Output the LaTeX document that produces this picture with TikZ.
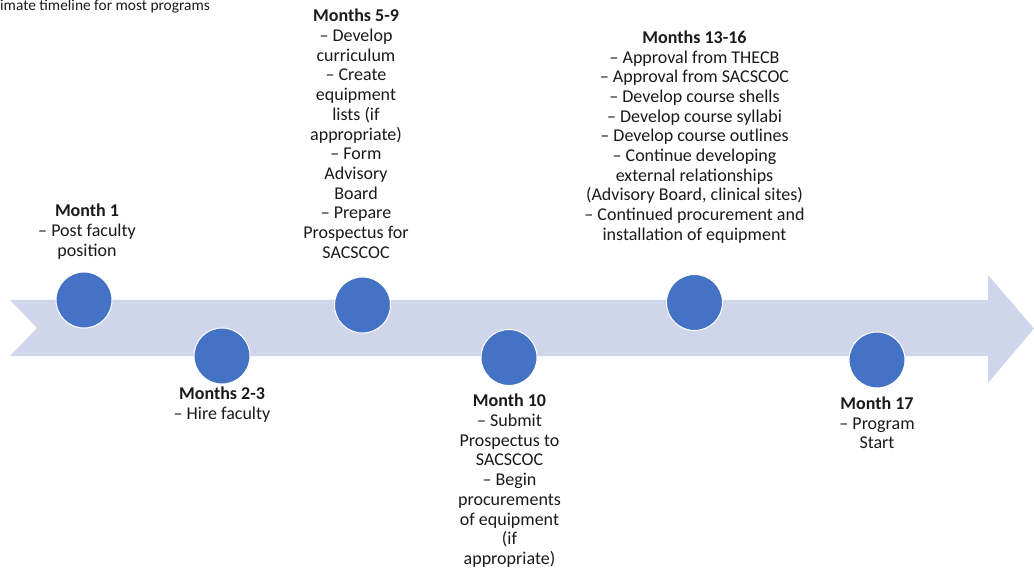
\documentclass[tikz,border=0pt]{standalone}
\usepackage{fontspec}
\setmainfont{Carlito}
\definecolor{bandblue}{HTML}{CFD5EA}
\definecolor{dotblue}{HTML}{4472C4}
\definecolor{txt}{HTML}{1A1A1A}
\begin{document}
\begin{tikzpicture}[x=1pt,y=-1pt,
  dot/.style={circle, fill=dotblue, draw=white, line width=1pt, minimum size=56pt, inner sep=0pt},
  lbl/.style={align=center, inner sep=0pt, anchor=north, text=txt, font=\fontsize{18}{19.7}\selectfont},
  ttl/.style={inner sep=0pt, anchor=north west, text=txt, font=\fontsize{15.4}{17}\selectfont}]
\useasboundingbox (0,0) rectangle (1034,572);
\clip (0,0) rectangle (1034,572);
% timeline band arrow
\fill[bandblue] (10,300) -- (988,300) -- (988,275) -- (1034,328.5) -- (988,383) -- (988,356) -- (10,356) -- (37,328) -- cycle;
% title (cut off at the left edge)
\node[ttl] (title) at (0,0) {imate timeline for most programs};
% milestones
\node[dot] (c1) at (84,300) {};
\node[dot] (c2) at (222,356) {};
\node[dot] (c3) at (362.5,305) {};
\node[dot] (c4) at (509,357.5) {};
\node[dot] (c5) at (694.5,302.5) {};
\node[dot] (c6) at (877,360) {};
% labels
\node[lbl] (t1) at (87,204) {\textbf{Month 1}\\– Post faculty\\position};
\node[lbl] (t2) at (222,387) {\textbf{Months 2-3}\\– Hire faculty};
\node[lbl] (t3) at (356,9) {\textbf{Months 5-9}\\– Develop\\curriculum\\– Create\\equipment\\lists (if\\appropriate)\\– Form\\Advisory\\Board\\– Prepare\\Prospectus for\\SACSCOC};
\node[lbl] (t4) at (509.5,394) {\textbf{Month 10}\\– Submit\\Prospectus to\\SACSCOC\\– Begin\\procurements\\of equipment\\(if\\appropriate)};
\node[lbl] (t5) at (694.5,30.5) {\textbf{Months 13-16}\\– Approval from THECB\\– Approval from SACSCOC\\– Develop course shells\\– Develop course syllabi\\– Develop course outlines\\– Continue developing\\external relationships\\(Advisory Board, clinical sites)\\– Continued procurement and\\installation of equipment};
\node[lbl] (t6) at (877,396.5) {\textbf{Month 17}\\– Program\\Start};
\end{tikzpicture}
\end{document}
